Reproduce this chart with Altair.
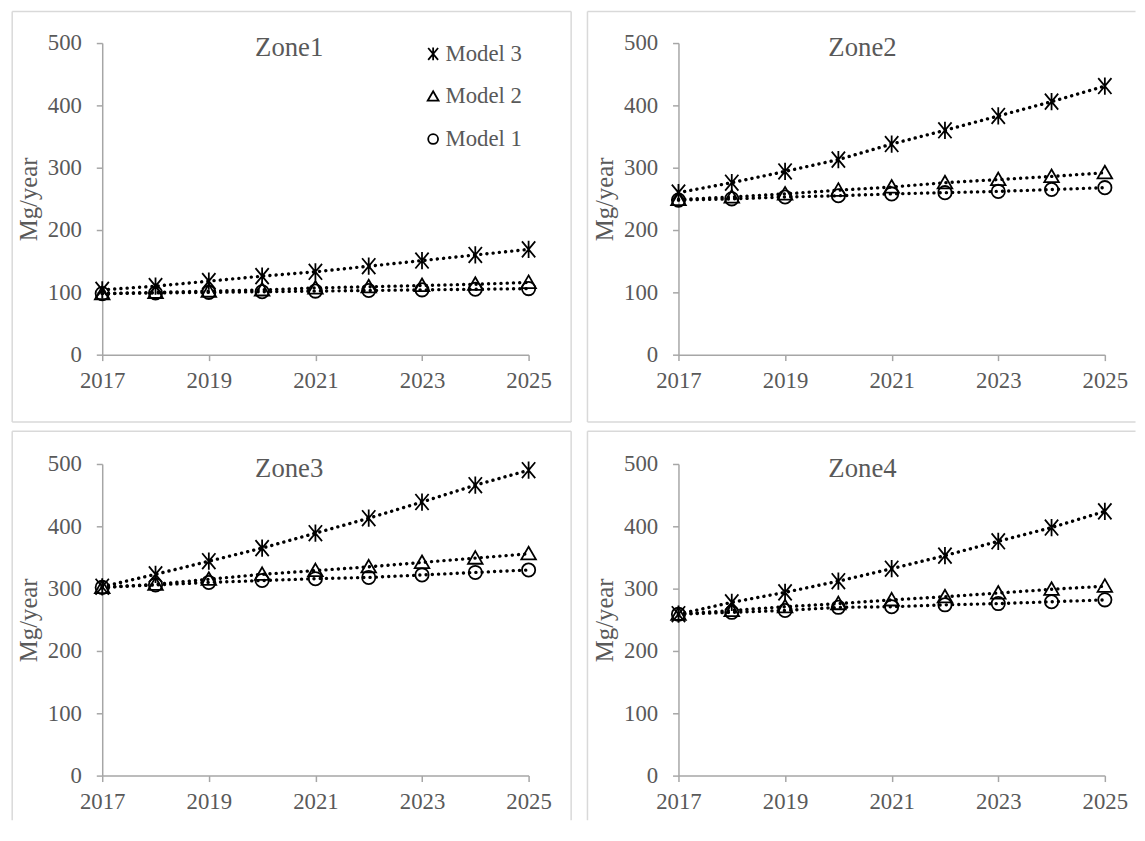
import altair as alt
import pandas as pd

years = [2017, 2018, 2019, 2020, 2021, 2022, 2023, 2024, 2025]
models = ["Model 3", "Model 2", "Model 1"]
zones = ["Zone1", "Zone2", "Zone3", "Zone4"]

zone1_model3 = [104, 110, 118, 126, 133, 142, 151, 160, 169]
zone1_model2 = [98, 100, 102, 104, 107, 109, 111, 113, 116]
zone1_model1 = [98, 99, 100, 101, 102, 103, 104, 105, 106]

zone2_model3 = [260, 276, 294, 313, 338, 360, 383, 406, 431]
zone2_model2 = [249, 253, 258, 264, 269, 276, 281, 286, 292]
zone2_model1 = [248, 250, 253, 255, 258, 260, 262, 265, 268]

zone3_model3 = [303, 323, 344, 365, 389, 413, 439, 466, 490]
zone3_model2 = [302, 307, 315, 323, 329, 335, 342, 349, 356]
zone3_model1 = [302, 306, 310, 313, 316, 318, 322, 326, 330]

zone4_model3 = [259, 278, 294, 312, 332, 353, 376, 398, 424]
zone4_model2 = [259, 265, 271, 276, 282, 287, 293, 299, 304]
zone4_model1 = [259, 262, 265, 270, 271, 274, 276, 279, 282]

zone_values = {
    "Zone1": [zone1_model3, zone1_model2, zone1_model1],
    "Zone2": [zone2_model3, zone2_model2, zone2_model1],
    "Zone3": [zone3_model3, zone3_model2, zone3_model1],
    "Zone4": [zone4_model3, zone4_model2, zone4_model1],
}

FONT = "Liberation Serif"
TXT = "#595959"
AXIS = "#a6a6a6"
BORDER = "#d9d9d9"
W, H = 431, 315

shape_range = [
    "M-1,-1.2L1,1.2M-1,1.2L1,-1.2M0,-1.3L0,1.3",
    "M0,-1.05L1.1,0.85L-1.1,0.85Z",
    "circle",
]

one = pd.DataFrame({"k": [0]})


def border(x1, x2, y1, y2):
    return alt.Chart(one).mark_rule(color=BORDER, strokeWidth=1.5).encode(
        x=alt.value(x1), x2=alt.value(x2), y=alt.value(y1), y2=alt.value(y2)
    )


def panel(zone, title_x, title_y, borders, show_legend):
    rows = []
    for m, vals in zip(models, zone_values[zone]):
        for yr, v in zip(years, vals):
            rows.append({"model": m, "year": yr, "value": v})
    df = pd.DataFrame(rows)

    x = alt.X(
        "year:Q",
        scale=alt.Scale(domain=[2017, 2025], nice=False, zero=False),
        axis=alt.Axis(
            values=[2017, 2019, 2021, 2023, 2025], format="d", title=None,
            labelFont=FONT, labelFontSize=23, labelColor=TXT, labelPadding=9,
            labelFlush=False, tickSize=6, tickColor=AXIS, tickWidth=1.5,
            domainColor=AXIS, domainWidth=1.5, grid=False,
        ),
    )
    y = alt.Y(
        "value:Q",
        scale=alt.Scale(domain=[0, 500], nice=False),
        axis=alt.Axis(
            values=[0, 100, 200, 300, 400, 500], title="Mg/year",
            titleFont=FONT, titleFontSize=25, titleFontWeight="normal",
            titleColor=TXT, titlePadding=6,
            labelFont=FONT, labelFontSize=23, labelColor=TXT, labelPadding=15,
            tickSize=6, tickColor=AXIS, tickWidth=1.5,
            domainColor=AXIS, domainWidth=1.5, grid=False,
        ),
    )
    if show_legend:
        leg = alt.Legend(
            orient="none", legendX=323, legendY=-0.5, title=None,
            labelFont=FONT, labelFontSize=23, labelColor=TXT, labelOffset=1,
            symbolSize=100, symbolStrokeColor="black", symbolStrokeWidth=1.8,
            symbolFillColor="transparent", rowPadding=19, padding=0,
        )
    else:
        leg = None
    shape = alt.Shape(
        "model:N", scale=alt.Scale(domain=models, range=shape_range), legend=leg
    )
    base = alt.Chart(df)
    lines = base.mark_line(
        color="black", strokeDash=[0.1, 6.2], strokeCap="round", strokeWidth=3.4
    ).encode(x=x, y=y, detail="model:N")
    pts = base.mark_point(
        filled=False, color="black", strokeWidth=1.8, opacity=1, size=180
    ).encode(x=x, y=y, shape=shape)
    title = alt.Chart(pd.DataFrame({"zone": [zone]})).mark_text(
        font=FONT, fontSize=27, color=TXT, baseline="middle", align="center"
    ).encode(text="zone:N", x=alt.value(title_x), y=alt.value(title_y))
    layers = [border(*b) for b in borders] + [lines, pts, title]
    return alt.layer(*layers).properties(width=W, height=H)


p1 = panel("Zone1", 189, 5.5, [(-91, 474, -32, -32), (-91, 474, 383, 383),
                                (-91, -91, -32, 383), (474, 474, -32, 383)], True)
p2 = panel("Zone2", 186, 5.5, [(-92, 462, -32, -32), (-92, 462, 383, 383),
                                (-92, -92, -32, 383)], False)
p3 = panel("Zone3", 189, 5.5, [(-91, 474, -33, -33), (-91, -91, -33, 360),
                                (474, 474, -33, 360)], False)
p4 = panel("Zone4", 186, 5.5, [(-92, 462, -33, -33), (-92, -92, -33, 360)], False)

top = alt.hconcat(p1, p2, spacing=14.5).resolve_scale(
    shape="independent").resolve_legend(shape="independent")
bottom = alt.hconcat(p3, p4, spacing=14.5).resolve_scale(
    shape="independent").resolve_legend(shape="independent")

chart = alt.vconcat(top, bottom, spacing=7.5).resolve_scale(
    shape="independent").resolve_legend(shape="independent").properties(
    padding={"left": 3.25, "top": -2, "right": 0, "bottom": 0},
    background="white",
).configure_view(stroke=None)

chart.save("out.html", embed_options={"renderer": "svg", "actions": False})
